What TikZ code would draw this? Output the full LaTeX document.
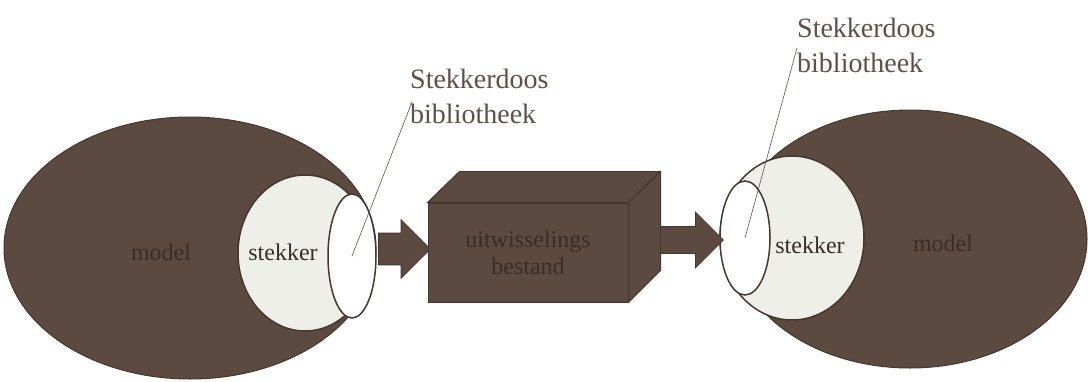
\documentclass[tikz,border=0pt]{standalone}
\usepackage{fontspec}
\setmainfont{Liberation Serif}
\usepackage{xcolor}
\usetikzlibrary{shapes.geometric,shapes.arrows,positioning}
\definecolor{modelbrown}{HTML}{5C4A41}
\definecolor{edgebrown}{HTML}{45362F}
\definecolor{plugwhite}{HTML}{EFEFE9}
\definecolor{inktext}{HTML}{3A2D27}
\definecolor{labelgray}{HTML}{5E5049}

\begin{document}
\begin{tikzpicture}[
    x=1pt, y=-1pt,
    model/.style={ellipse, fill=modelbrown, draw=edgebrown, line width=1pt, inner sep=0pt},
    plug/.style={ellipse, fill=plugwhite, draw=edgebrown, line width=1.5pt, inner sep=0pt},
    socket/.style={ellipse, fill=white, draw=edgebrown, line width=1.5pt, inner sep=0pt},
    inner/.style={font=\fontsize{24}{27}\selectfont, text=inktext, inner sep=0pt},
    liblabel/.style={font=\fontsize{28}{35}\selectfont, align=left, text=labelgray, inner sep=0pt},
    leader/.style={draw=labelgray, line width=0.6pt},
    blockarrow/.style={single arrow, fill=modelbrown, draw=edgebrown, line width=0.8pt,
                       inner xsep=0pt, anchor=west},
    crate/.style={rectangle, fill=modelbrown, draw=edgebrown, line width=1pt,
                  minimum width=200pt, minimum height=99pt, align=center,
                  font=\fontsize{24}{27}\selectfont, text=inktext}
]
\useasboundingbox (0,0) rectangle (1088,381);

% left model
\node[model, minimum width=372pt, minimum height=262pt] (lmodel) at (190,248) {};
\node[plug, minimum width=134pt, minimum height=156pt] (lplug) at (305,253) {};
\node[socket, minimum width=48pt, minimum height=124pt] (lsock) at (352,256) {};
\node[inner] (lmodeltxt) at (161,252) {model};
\node[inner] (lplugtxt) at (283,252) {stekker};

% right model
\node[model, minimum width=354pt, minimum height=258pt] (rmodel) at (910,239) {};
\node[plug, minimum width=144pt, minimum height=164pt] (rplug) at (792,238) {};
\node[socket, minimum width=50pt, minimum height=114pt] (rsock) at (745,238) {};
\node[inner] (rplugtxt) at (810,245) {stekker};
\node[inner] (rmodeltxt) at (943,243) {model};

% exchange file
\node[blockarrow, inner ysep=15.5pt, single arrow head extend=13.5pt,
      minimum height=52pt] (larrow) at (378,249) {};
\node[crate] (xfile) at (528,252.5) {uitwisselings\\bestand};
\filldraw[fill=modelbrown, draw=edgebrown, line width=1pt]
    (xfile.north west) -- ++(32,-31) -- ++(200,0) -- (xfile.north east) -- cycle;
\filldraw[fill=modelbrown, draw=edgebrown, line width=1pt]
    (xfile.north east) -- ++(32,-31) -- ++(0,99) -- (xfile.south east) -- cycle;
\node[blockarrow, inner ysep=13pt, single arrow head extend=14.5pt,
      minimum height=63pt] (rarrow) at (660,240) {};

% library labels
\node[liblabel, anchor=west] (llib) at (410,96) {Stekkerdoos\\bibliotheek};
\node[liblabel, anchor=west] (rlib) at (797,45) {Stekkerdoos\\bibliotheek};
\coordinate (llibfoot) at (412,102);
\coordinate (rlibfoot) at (797,48);
\draw[leader] (lsock.center) -- (llibfoot);
\draw[leader] (rsock.center) -- (rlibfoot);
\end{tikzpicture}
\end{document}
